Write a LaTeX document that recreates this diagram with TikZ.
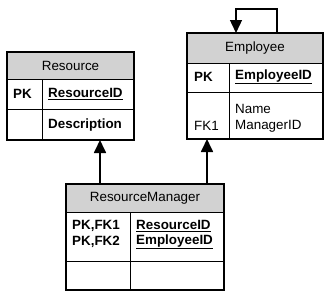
\documentclass[tikz,border=0pt]{standalone}
\usepackage{fontspec}
\setmainfont{Liberation Sans}
\usetikzlibrary{arrows.meta}
\definecolor{hdr}{RGB}{210,210,210}
\begin{document}
\begin{tikzpicture}[x=1pt,y=-1pt,
  tbl/.style={draw, line width=1.1pt, inner sep=0pt, outer sep=0pt, rectangle},
  grid/.style={draw, line width=0.9pt},
  txt/.style={font=\fontsize{13.4}{15}\selectfont, inner sep=0pt, anchor=west},
  htxt/.style={font=\fontsize{13.4}{15}\selectfont, inner sep=0pt},
  conn/.style={line width=1.7pt, -{Triangle[length=13pt,width=12pt]}},
  loopconn/.style={line width=1.4pt, -{Triangle[length=13pt,width=12pt]}}]
\useasboundingbox (0,0) rectangle (330,295);
\fill[white] (0,0) rectangle (330,295);
% Resource
\fill[hdr] (7,52) rectangle (134,79);
\draw[grid] (7,79) -- (134,79) (7,109) -- (134,109) (42,79) -- (42,140);
\node[tbl, minimum width=127pt, minimum height=88pt] (res) at (70.5,96) {};
\node[htxt] (resh) at (70.5,66) {Resource};
\node[txt] (respk) at (13,94) {\textbf{PK}};
\node[txt] (resid) at (48,94) {\textbf{\underline{ResourceID}}};
\node[txt] (resdesc) at (48,125) {\textbf{Description}};
% Employee
\fill[hdr] (187,33) rectangle (323,63);
\draw[grid] (187,63) -- (323,63) (187,92) -- (323,92) (229,63) -- (229,139);
\node[tbl, minimum width=136pt, minimum height=106pt] (emp) at (255,86) {};
\node[htxt] (emph) at (255,48) {Employee};
\node[txt] (emppk) at (194,77) {\textbf{PK}};
\node[txt] (empid) at (235,77) {\textbf{\underline{EmployeeID}}};
\node[txt] (empname) at (235,109) {Name};
\node[txt] (empmgr) at (235,126) {ManagerID};
\node[txt] (empfk) at (194,126) {FK1};
% ResourceManager
\fill[hdr] (66,184) rectangle (224,212);
\draw[grid] (66,212) -- (224,212) (66,261) -- (224,261) (130,212) -- (130,290);
\node[tbl, minimum width=158pt, minimum height=106pt] (rm) at (145,237) {};
\node[htxt] (rmh) at (145,198) {ResourceManager};
\node[txt] (rmpk1) at (72,226) {\textbf{PK,FK1}};
\node[txt] (rmpk2) at (72,242) {\textbf{PK,FK2}};
\node[txt] (rmid1) at (136,226) {\textbf{\underline{ResourceID}}};
\node[txt] (rmid2) at (136,242) {\textbf{\underline{EmployeeID}}};
% connectors
\draw[conn] (rm.north -| 100,0) -- (res.south -| 100,0);
\draw[conn] (rm.north -| 207,0) -- (emp.south -| 207,0);
\coordinate (loopa) at (277,9);
\coordinate (loopb) at (236,9);
\draw[loopconn] (emp.north -| 277,0) -- (loopa) -- (loopb) -- (emp.north -| 236,0);
\end{tikzpicture}
\end{document}
